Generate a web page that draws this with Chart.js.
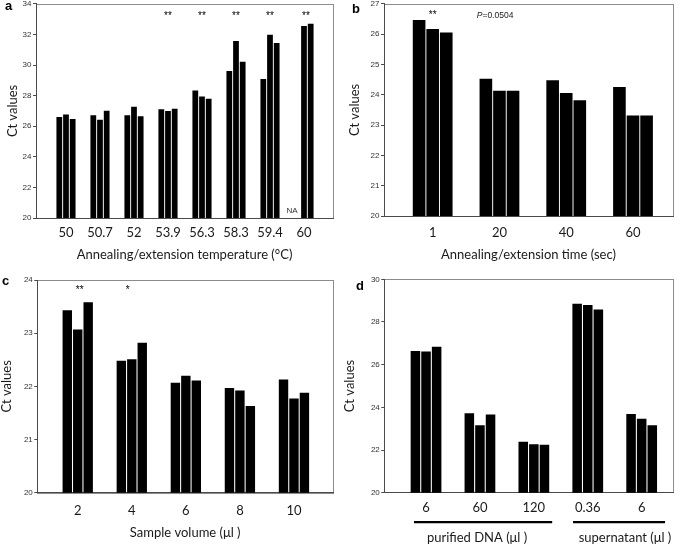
<!DOCTYPE html>
<html>
<head>
<meta charset="utf-8">
<script src="https://cdn.jsdelivr.net/npm/chart.js@4"></script>
<style>
  html, body { margin: 0; padding: 0; background: #fff; }
  #wrap { position: relative; width: 685px; height: 550px; overflow: hidden; background: #fff; }
  #wrap canvas { position: absolute; left: 0; top: 0; }
  .tag { position: absolute; font: bold 13px 'Liberation Sans', Arial, sans-serif; line-height: 13px; color: #000; }
</style>
</head>
<body>
<div id="wrap">
  <canvas id="panelA" width="685" height="550"></canvas>
  <canvas id="panelB" width="685" height="550"></canvas>
  <canvas id="panelC" width="685" height="550"></canvas>
  <canvas id="panelD" width="685" height="550"></canvas>
  <div class="tag" style="left:5px;top:-1px">a</div>
  <div class="tag" style="left:352px;top:2px">b</div>
  <div class="tag" style="left:2px;top:274px">c</div>
  <div class="tag" style="left:356px;top:279px">d</div>
</div>
<script>
// a: annealing/extension temperature
const tempLabels = ['50', '50.7', '52', '53.9', '56.3', '58.3', '59.4', '60'];
const tempRep1 = [26.61, 26.72, 26.72, 27.11, 28.33, 29.61, 29.09, null];
const tempRep2 = [26.76, 26.42, 27.27, 27.00, 27.94, 31.57, 31.98, 32.55];
const tempRep3 = [26.48, 27.02, 26.65, 27.15, 27.79, 30.22, 31.44, 32.70];
const tempStars = ['', '', '', '**', '**', '**', '**', '**'];

// b: annealing/extension time
const timeLabels = ['1', '20', '40', '60'];
const timeRep1 = [26.47, 24.53, 24.48, 24.26];
const timeRep2 = [26.17, 24.13, 24.06, 23.32];
const timeRep3 = [26.06, 24.13, 23.82, 23.32];
const timeStars = ['**', '', '', ''];

// c: sample volume
const volLabels = ['2', '4', '6', '8', '10'];
const volRep1 = [23.43, 22.48, 22.07, 21.97, 22.13];
const volRep2 = [23.07, 22.51, 22.20, 21.92, 21.77];
const volRep3 = [23.58, 22.82, 22.11, 21.63, 21.88];
const volStars = ['**', '*', '', '', ''];

// d: template source
const srcLabels = ['6', '60', '120', '0.36', '6'];
const srcRep1 = [26.64, 23.72, 22.39, 28.86, 23.69];
const srcRep2 = [26.62, 23.16, 22.27, 28.80, 23.47];
const srcRep3 = [26.84, 23.67, 22.25, 28.58, 23.16];
const srcGroups = ['purified DNA (\u03bcl )', 'supernatant (\u03bcl )'];

const axisColor = '#4a4a4a';
const textColor = '#1a1a1a';
const sans = "Lato, 'Open Sans', sans-serif";
const arial = "'Liberation Sans', Arial, sans-serif";

const frame = {
    id: 'frame',
    beforeDraw(chart) {
        const { ctx, chartArea: a } = chart;
        ctx.save();
        ctx.strokeStyle = '#8c8c8c';
        ctx.lineWidth = 1;
        ctx.strokeRect(Math.round(a.left) + 0.5, Math.round(a.top) + 0.5, Math.round(a.width), Math.round(a.height));
        ctx.restore();
    }
};

function notes(draw) {
    return {
        id: 'notes',
        afterDraw(chart) {
            const ctx = chart.ctx;
            ctx.save();
            draw(ctx, chart.scales.x, chart.chartArea);
            ctx.restore();
        }
    };
}

function drawStars(ctx, x, area, stars, dx, dy) {
    ctx.fillStyle = '#000';
    ctx.font = '10px ' + arial;
    ctx.textAlign = 'center';
    ctx.textBaseline = 'alphabetic';
    stars.forEach((s, i) => {
        if (s) ctx.fillText(s, x.getPixelForValue(i) + (dx[i] || 0), area.top + dy);
    });
}

function makePanel(id, p) {
    const datasets = p.reps.map(rep => ({
        data: rep.map((v, i) => ({ x: i, y: v })),
        backgroundColor: '#000',
        borderWidth: 0,
        categoryPercentage: p.cat,
        barPercentage: p.bar
    }));
    return new Chart(document.getElementById(id), {
        type: 'bar',
        data: { datasets },
        options: {
            responsive: false,
            animation: false,
            events: [],
            devicePixelRatio: 1,
            layout: {
                padding: { left: p.left - p.yw, top: p.top, right: 685 - p.right, bottom: 550 - p.bottom - p.xh }
            },
            plugins: { legend: { display: false }, tooltip: { enabled: false } },
            scales: {
                x: {
                    type: 'linear',
                    min: p.xMin,
                    max: p.xMax,
                    offset: false,
                    grid: { display: false, drawTicks: false, offset: false },
                    border: { color: axisColor, width: 1 },
                    afterBuildTicks: s => { s.ticks = p.labels.map((_, i) => ({ value: i })); },
                    afterFit: s => { s.height = p.xh; },
                    ticks: {
                        autoSkip: false, maxRotation: 0, padding: p.tickPad - 0.6, color: textColor,
                        font: { family: sans, size: 13 },
                        callback: v => p.labels[v]
                    },
                    title: p.xTitle ? {
                        display: true, text: p.xTitle, color: textColor,
                        font: { family: sans, size: 13, lineHeight: 1 }, padding: { top: 0, bottom: 0 }
                    } : { display: false }
                },
                y: {
                    min: p.yMin,
                    max: p.yMax,
                    beginAtZero: false,
                    afterFit: s => { s.width = p.yw; },
                    grid: { drawOnChartArea: false, tickLength: 3, color: axisColor },
                    border: { color: axisColor },
                    ticks: {
                        stepSize: p.yStep, padding: 1.5, color: '#333',
                        font: { family: "'Liberation Sans Narrow', 'Liberation Sans', Arial", size: 8, lineHeight: 0.6 }
                    },
                    title: {
                        display: true, text: 'Ct values', color: textColor,
                        font: { family: sans, size: 13, lineHeight: 1 }, padding: { top: p.ytp, bottom: 0 }
                    }
                }
            }
        },
        plugins: [frame, notes(p.notes)]
    });
}

makePanel('panelA', {
    labels: tempLabels, reps: [tempRep1, tempRep2, tempRep3],
    yMin: 20, yMax: 34, yStep: 2, xMin: -0.882, xMax: 7.853,
    left: 36, right: 333, top: 3, bottom: 218, yw: 36, ytp: 6.5, xh: 43.5, tickPad: 7.8,
    cat: 0.59, bar: 0.86,
    xTitle: 'Annealing/extension temperature (\u00b0C)',
    notes: (ctx, x, area) => {
        drawStars(ctx, x, area, tempStars, { 7: 2 }, 15.5);
        ctx.fillStyle = '#333';
        ctx.font = '8px ' + arial;
        ctx.textBaseline = 'middle';
        ctx.fillText('NA', x.getPixelForValue(6.65), area.bottom - 7);
    }
});

makePanel('panelB', {
    labels: timeLabels, reps: [timeRep1, timeRep2, timeRep3],
    yMin: 20, yMax: 27, yStep: 1, xMin: -0.729, xMax: 3.599,
    left: 384, right: 673, top: 3, bottom: 216, yw: 42, ytp: 6.5, xh: 45.5, tickPad: 9.8,
    cat: 0.61, bar: 0.93,
    xTitle: 'Annealing/extension time (sec)',
    notes: (ctx, x, area) => {
        drawStars(ctx, x, area, timeStars, {}, 14.5);
        ctx.fillStyle = '#222';
        ctx.textAlign = 'left';
        ctx.textBaseline = 'middle';
        const px = x.getPixelForValue(0.66);
        ctx.font = 'italic 8.5px ' + arial;
        ctx.fillText('P', px, area.top + 12);
        const w = ctx.measureText('P').width;
        ctx.font = '8.5px ' + arial;
        ctx.fillText('=0.0504', px + w, area.top + 12);
    }
});

makePanel('panelC', {
    labels: volLabels, reps: [volRep1, volRep2, volRep3],
    yMin: 20, yMax: 24, yStep: 1, xMin: -0.748, xMax: 4.722,
    left: 37.3, right: 333, top: 280, bottom: 492.7, yw: 37.3, ytp: 0.5, xh: 47.1, tickPad: 10.8,
    cat: 0.58, bar: 0.9,
    xTitle: 'Sample volume (\u03bcl )',
    notes: (ctx, x, area) => {
        drawStars(ctx, x, area, volStars, { 0: 2, 1: -4 }, 12.7);
    }
});

makePanel('panelD', {
    labels: srcLabels, reps: [srcRep1, srcRep2, srcRep3],
    yMin: 20, yMax: 30, yStep: 2, xMin: -0.774, xMax: 4.581,
    left: 384.3, right: 673, top: 279.3, bottom: 492.7, yw: 42.3, ytp: 1.5, xh: 57.3, tickPad: 8.1,
    cat: 0.59, bar: 0.9,
    xTitle: null,
    notes: (ctx, x, area) => {
        const ly = area.bottom + 29.5;
        ctx.strokeStyle = '#000';
        ctx.lineWidth = 2.2;
        ctx.beginPath();
        ctx.moveTo(x.getPixelForValue(-0.223), ly);
        ctx.lineTo(x.getPixelForValue(2.34), ly);
        ctx.moveTo(x.getPixelForValue(2.727), ly);
        ctx.lineTo(x.getPixelForValue(4.434), ly);
        ctx.stroke();
        ctx.fillStyle = textColor;
        ctx.font = '13px ' + sans;
        ctx.textAlign = 'center';
        ctx.textBaseline = 'middle';
        ctx.fillText(srcGroups[0], x.getPixelForValue(0.946), area.bottom + 45.5);
        ctx.fillText(srcGroups[1], x.getPixelForValue(3.69), area.bottom + 45.5);
    }
});
</script>
</body>
</html>
